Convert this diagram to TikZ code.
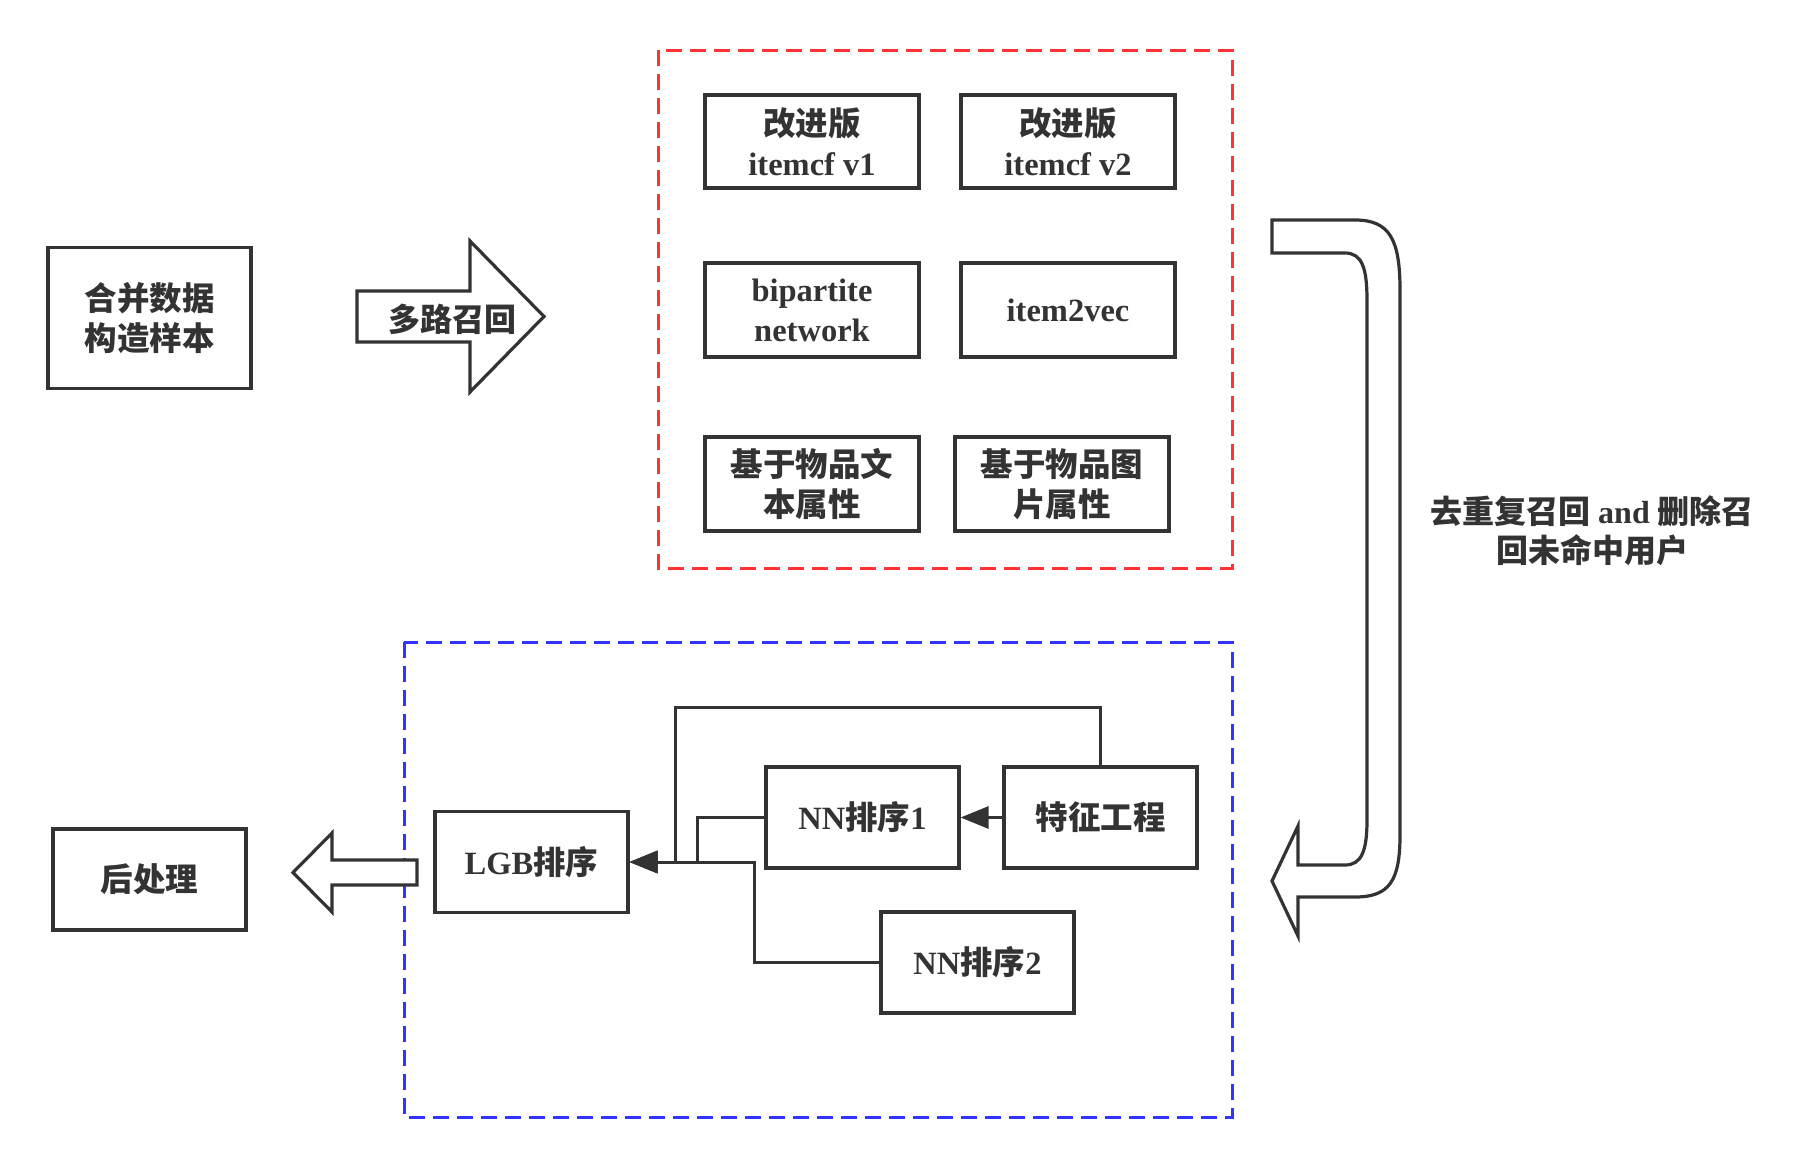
\documentclass[tikz,border=0pt]{standalone}
\usepackage{fontspec}
\setmainfont{Liberation Serif}
\newfontfamily\cjk{Noto Sans CJK SC}
\usetikzlibrary{arrows.meta}
\definecolor{ink}{HTML}{333333}
\definecolor{redd}{HTML}{FF3333}
\definecolor{bluee}{HTML}{3333FF}
\newcommand\zh[1]{{\cjk\bfseries #1}}
\tikzset{
  box/.style={draw=ink, line width=3.2pt, inner sep=0pt, align=center, text=ink,
    font=\bfseries\fontsize{32.5}{40}\selectfont},
  grp/.style={line width=3pt, dash pattern=on 16pt off 8pt},
  conn/.style={draw=ink, line width=3pt},
  tip/.style={-{Triangle[length=28pt,width=22pt]}},
  hollow/.style={draw=ink, line width=3.2pt, fill=white, line join=miter},
  lbl/.style={text=ink, align=center, inner sep=0pt, font=\bfseries\fontsize{32}{39}\selectfont}
}
\begin{document}
\begin{tikzpicture}[x=1pt,y=-1pt]
\useasboundingbox (0,0) rectangle (1820,1167);
% groups
\draw[grp, draw=redd] (658,50) rectangle (1232,568);
\draw[grp, draw=bluee] (404,642) rectangle (1232,1117);
% left column
\node[box, minimum width=203pt, minimum height=141pt] (merge) at (149.5,318) {\zh{合并数据}\\\zh{构造样本}};
\node[box, minimum width=193pt, minimum height=101pt] (post) at (149.5,879.5) {\zh{后处理}};
% big right arrow
\draw[hollow] (357,291) -- (470,291) -- (470,241) -- (544,316.5) -- (470,392) -- (470,342) -- (357,342) -- cycle;
\node[lbl] (multi) at (452,319) {\zh{多路召回}};
% recall boxes
\node[box, minimum width=214pt, minimum height=93pt] (cf1) at (812,141.5) {\zh{改进版}\\itemcf v1};
\node[box, minimum width=214pt, minimum height=93pt] (cf2) at (1068,141.5) {\zh{改进版}\\itemcf v2};
\node[box, minimum width=214pt, minimum height=94pt] (bip) at (812,310) {bipartite\\network};
\node[box, minimum width=214pt, minimum height=94pt] (i2v) at (1068,310) {item2vec};
\node[box, minimum width=214pt, minimum height=94pt] (txt) at (812,484) {\zh{基于物品文}\\\zh{本属性}};
\node[box, minimum width=214pt, minimum height=94pt] (img) at (1062,484) {\zh{基于物品图}\\\zh{片属性}};
% U arrow
\draw[hollow] (1272,220) -- (1355,220) .. controls (1390,220) and (1400,240) .. (1400,290)
  -- (1400,835) .. controls (1400,880) and (1390,897) .. (1355,897)
  -- (1298,897) -- (1298,936) -- (1272,881) -- (1298,826) -- (1298,865)
  -- (1345,865) .. controls (1362,865) and (1367,850) .. (1367,820)
  -- (1367,300) .. controls (1367,268) and (1362,253) .. (1345,253)
  -- (1272,253) -- cycle;
\node[lbl] (dedup) at (1592,531) {\zh{去重复召回} and \zh{删除召}\\\zh{回未命中用户}};
% ranking
\node[box, minimum width=193pt, minimum height=101pt] (lgb) at (531.5,862) {LGB\zh{排序}};
\node[box, minimum width=193pt, minimum height=101pt] (nn1) at (862.5,817.5) {NN\zh{排序}1};
\node[box, minimum width=193pt, minimum height=101pt] (fe) at (1100.5,817.5) {\zh{特征工程}};
\node[box, minimum width=193pt, minimum height=101pt] (nn2) at (977.5,962.5) {NN\zh{排序}2};
% left hollow arrow
\draw[hollow] (417,860) -- (332,860) -- (332,833) -- (293,872.5) -- (332,912) -- (332,885) -- (417,885) -- cycle;
% connectors
\coordinate (a1) at (1100.5,707);
\coordinate (a2) at (675.5,707);
\coordinate (a3) at (675.5,862);
\coordinate (b1) at (697.5,817.5);
\coordinate (b2) at (697.5,862);
\coordinate (c1) at (754.5,962.5);
\coordinate (c2) at (754.5,862);
\draw[conn, tip] (fe.west) -- (nn1.east);
\draw[conn, tip] (fe.north) -- (a1) -- (a2) -- (a3) -- (lgb.east);
\draw[conn, tip] (nn1.west) -- (b1) -- (b2) -- (lgb.east);
\draw[conn, tip] (nn2.west) -- (c1) -- (c2) -- (lgb.east);
\end{tikzpicture}
\end{document}
